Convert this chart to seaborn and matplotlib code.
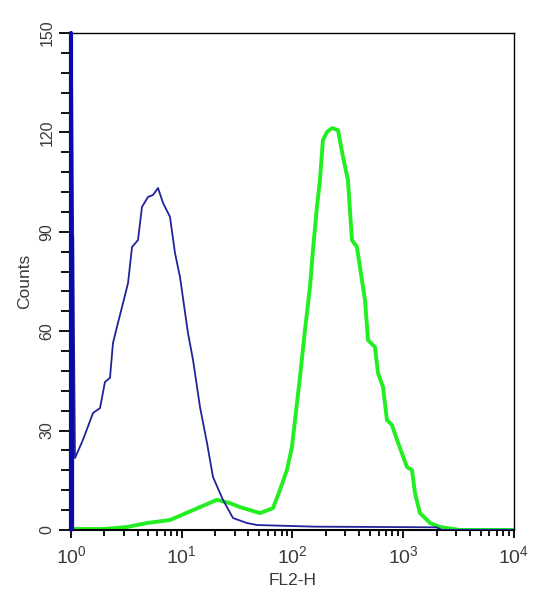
import numpy as np
import pandas as pd
import matplotlib
matplotlib.use("Agg")
import matplotlib.pyplot as plt
import seaborn as sns
from matplotlib.ticker import LogLocator, FixedLocator, MultipleLocator, NullFormatter

# control (blue) histogram: log10(FL2-H) position and counts
blue_log = [0.0, 0.005, 0.02, 0.036, 0.108, 0.199, 0.262, 0.307, 0.352, 0.379, 0.415,
            0.470, 0.515, 0.551, 0.605, 0.641, 0.695, 0.740, 0.786, 0.831, 0.894,
            0.939, 0.984, 1.056, 1.102, 1.165, 1.228, 1.282, 1.372, 1.463, 1.589,
            1.679, 2.2, 2.8, 3.3, 3.35, 4.0]
blue_counts = [160, 160, 88, 21.7, 27.2, 35.3, 36.8, 44.7, 45.9, 56.4, 61.3,
               68.5, 74.5, 85.4, 87.5, 97.5, 100.5, 101.1, 103.2, 98.7, 94.5,
               83.6, 76.4, 59.5, 51.3, 37.1, 26.3, 16.0, 9.1, 3.6, 2.1,
               1.5, 1.0, 0.9, 0.8, 0.0, 0.0]

# antibody stained (green) histogram
green_log = [0.0, 0.3, 0.506, 0.686, 0.894, 1.102, 1.318, 1.436, 1.526, 1.707, 1.824,
             1.887, 1.950, 1.995, 2.023, 2.068, 2.113, 2.158, 2.185, 2.221, 2.248,
             2.275, 2.312, 2.357, 2.411, 2.456, 2.501, 2.537, 2.582, 2.609, 2.655,
             2.682, 2.745, 2.772, 2.817, 2.853, 2.898, 2.944, 3.034, 3.079, 3.106,
             3.151, 3.242, 3.332, 3.51, 4.0]
green_counts = [0.3, 0.3, 0.9, 2.1, 3.0, 6.0, 9.1, 8.1, 6.9, 5.1, 6.6,
                12.1, 18.1, 25.0, 33.2, 46.2, 60.4, 73.3, 84.5, 97.5, 105.6,
                117.7, 120.1, 121.3, 120.7, 112.6, 105.6, 87.5, 85.4, 79.4, 69.4,
                57.3, 55.2, 47.4, 43.2, 33.2, 31.7, 27.2, 19.0, 18.1, 11.2,
                5.1, 2.1, 0.9, 0.0, 0.0]

x_ticks = [1, 10, 100, 1000, 10000]
x_ticklabels = ["$10^{0}$", "$10^{1}$", "$10^{2}$", "$10^{3}$", "$10^{4}$"]
y_ticks = [0, 30, 60, 90, 120, 150]

blue_df = pd.DataFrame({"FL2": np.power(10.0, blue_log), "Counts": blue_counts})
green_df = pd.DataFrame({"FL2": np.power(10.0, green_log), "Counts": green_counts})

sns.set_style("white")
plt.rcParams["font.family"] = ["Liberation Sans", "DejaVu Sans"]
plt.rcParams["mathtext.fontset"] = "custom"
plt.rcParams["mathtext.rm"] = "Liberation Sans"
plt.rcParams["mathtext.it"] = "Liberation Sans"
plt.rcParams["mathtext.default"] = "regular"

fig = plt.figure(figsize=(5.44, 6.0), dpi=100)
ax = fig.add_axes([0.1305, 0.1167, 0.8143, 0.8283])

sns.lineplot(data=green_df, x="FL2", y="Counts", ax=ax, color="#22ee22",
             linewidth=2.8, estimator=None, sort=False, zorder=2)
sns.lineplot(data=blue_df, x="FL2", y="Counts", ax=ax, color="#22229a",
             linewidth=1.3, estimator=None, sort=False, zorder=3)
# off-scale first channels of the control, drawn as a thick bar on the left edge
ax.plot([1.0, 1.0], [0, 150], color="#0a0aa8", linewidth=3.0, zorder=4, clip_on=False)
ax.plot([1.01, 1.01], [0, 88], color="#0a0aa8", linewidth=4.5, zorder=4)

ax.set_xscale("log")
ax.set_xlim(1, 10000)
ax.set_ylim(0, 150)

ax.xaxis.set_major_locator(FixedLocator(x_ticks))
ax.set_xticklabels(x_ticklabels)
ax.xaxis.set_minor_locator(LogLocator(base=10, subs=np.arange(2, 10)))
ax.xaxis.set_minor_formatter(NullFormatter())
ax.set_yticks(y_ticks)
ax.yaxis.set_minor_locator(MultipleLocator(6))

ax.tick_params(axis="x", which="major", direction="out", length=6, width=1.3,
               labelsize=14, colors="black", labelcolor="#3a3a3a", pad=5)
ax.tick_params(axis="x", which="minor", direction="out", length=4, width=1.3, colors="black")
ax.tick_params(axis="y", which="major", direction="out", length=9, width=1.3,
               labelsize=11.5, colors="black", labelcolor="#3a3a3a", pad=3)
ax.tick_params(axis="y", which="minor", direction="out", length=7, width=1.3, colors="black")
ax.tick_params(left=True, bottom=True, which="both")
for lab in ax.get_yticklabels():
    lab.set_rotation(90)
    lab.set_va("center")

for s in ax.spines.values():
    s.set_visible(True)
    s.set_color("black")
    s.set_linewidth(1.0)
ax.spines["bottom"].set_linewidth(1.5)
ax.spines["left"].set_linewidth(1.5)

ax.set_xlabel("FL2-H", fontsize=12.5, color="#3a3a3a", labelpad=4)
ax.set_ylabel("Counts", fontsize=12.5, color="#3a3a3a", labelpad=5)

fig.savefig("out.png", dpi=100)
